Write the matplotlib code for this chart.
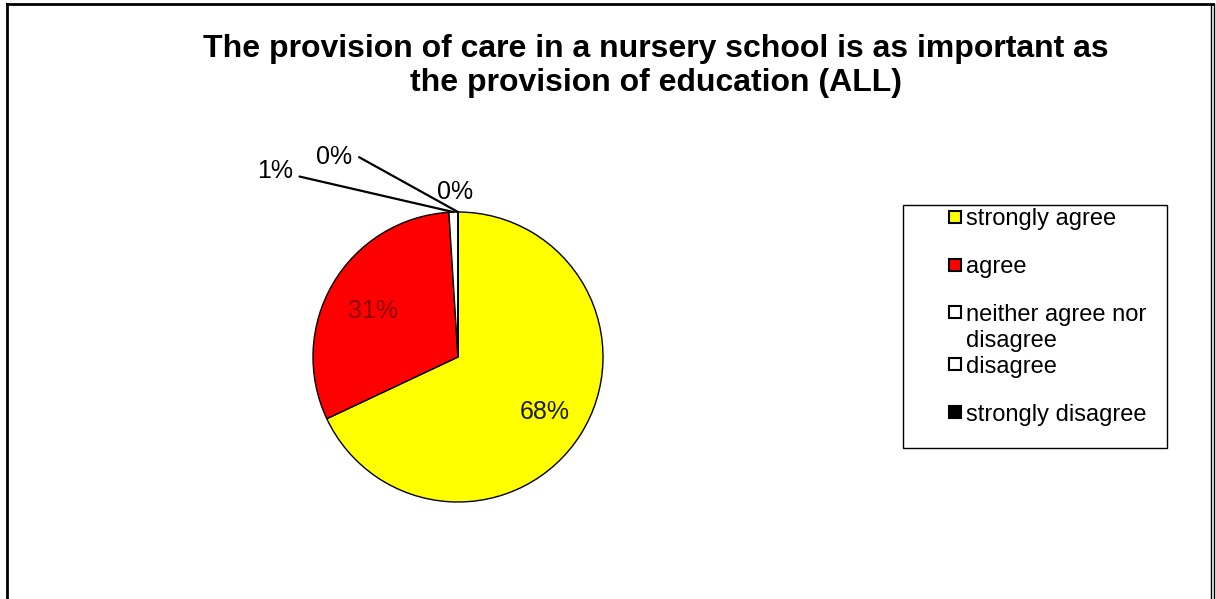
import numpy as np
import matplotlib
matplotlib.use("Agg")
import matplotlib.pyplot as plt
from matplotlib.lines import Line2D
from matplotlib.patches import Rectangle

plt.rcParams['font.family'] = ['Liberation Sans', 'DejaVu Sans']

title = "The provision of care in a nursery school is as important as\nthe provision of education (ALL)"
categories = ["strongly agree", "agree", "neither agree nor\ndisagree", "disagree", "strongly disagree"]
shares = [68, 31, 1, 0, 0]
colors = ["#FFFF00", "#FF0000", "#FFFFFF", "#FFFFFF", "#000000"]

W, H = 1216, 599
fig = plt.figure(figsize=(W / 100, H / 100), dpi=100)

# frame around the chart area (no bottom edge, double line on the right)
fig.add_artist(Line2D([7 / W, 7 / W], [0, 1 - 4 / H], color="black", lw=2))
fig.add_artist(Line2D([7 / W, 1213 / W], [1 - 4 / H, 1 - 4 / H], color="black", lw=2))
fig.add_artist(Line2D([1210.5 / W, 1210.5 / W], [0, 1 - 4 / H], color="black", lw=1))
fig.add_artist(Line2D([1213.5 / W, 1213.5 / W], [0, 1 - 4 / H], color="black", lw=1))

fig.text(656 / W, 1 - 66 / H, title, ha="center", va="center", fontsize=23,
         fontweight="bold", linespacing=1.2)

# pie axes: 1 data unit = 145 px, centre at (458, 357)
r = 145
cx, cy = 458, H - 357
ax = fig.add_axes([(cx - 2 * r) / W, (cy - 2 * r) / H, 4 * r / W, 4 * r / H])

wedges, _ = ax.pie(shares, colors=colors, startangle=90, counterclock=False,
                   radius=1, wedgeprops=dict(edgecolor="black", linewidth=1))
ax.set_xlim(-2, 2)
ax.set_ylim(-2, 2)
ax.set_aspect("equal")
ax.axis("off")

def mid_angle(w):
    return np.deg2rad((w.theta1 + w.theta2) / 2)

pct_size = 18

# inside labels
a = mid_angle(wedges[0])
ax.text(0.71 * np.cos(a), 0.71 * np.sin(a), f"{shares[0]}%", ha="center", va="center",
        fontsize=pct_size, color="#1a1a00")
a = mid_angle(wedges[1])
ax.text(0.68 * np.cos(a), 0.68 * np.sin(a) - 0.03, f"{shares[1]}%", ha="center", va="center",
        fontsize=pct_size, color="#8a0000")

# outside labels with leader lines
a = mid_angle(wedges[2])
ax.annotate(f"{shares[2]}%", xy=(np.cos(a), np.sin(a)), xytext=(-1.14, 1.28),
            ha="right", va="center", fontsize=pct_size,
            arrowprops=dict(arrowstyle="-", color="black", lw=1.6, shrinkA=3, shrinkB=0,
                            connectionstyle="angle,angleA=0,angleB=167,rad=0"))
a = mid_angle(wedges[3])
ax.annotate(f"{shares[3]}%", xy=(np.cos(a), np.sin(a)), xytext=(-0.73, 1.38),
            ha="right", va="center", fontsize=pct_size,
            arrowprops=dict(arrowstyle="-", color="black", lw=1.6, shrinkA=3, shrinkB=0,
                            connectionstyle="angle,angleA=0,angleB=151,rad=0"))
a = mid_angle(wedges[4])
ax.text(np.cos(a) - 0.02, 1.14, f"{shares[4]}%", ha="center", va="center", fontsize=pct_size)

# legend box drawn by hand
fig.add_artist(Rectangle((903 / W, 1 - 448 / H), 264 / W, 243 / H, transform=fig.transFigure,
                         facecolor="white", edgecolor="black", lw=1))
rows_y = [217, 265, 312, 364, 412]
for lab, col, y in zip(categories, colors, rows_y):
    fig.add_artist(Rectangle((949 / W, 1 - (y + 6) / H), 12 / W, 12 / H,
                             transform=fig.transFigure, facecolor=col,
                             edgecolor="black", lw=1.5))
    for i, line in enumerate(lab.split("\n")):
        fig.text(966 / W, 1 - (y + 27 * i) / H, line, ha="left", va="center_baseline",
                 fontsize=17)

fig.savefig("out.png", dpi=100, facecolor="white")
